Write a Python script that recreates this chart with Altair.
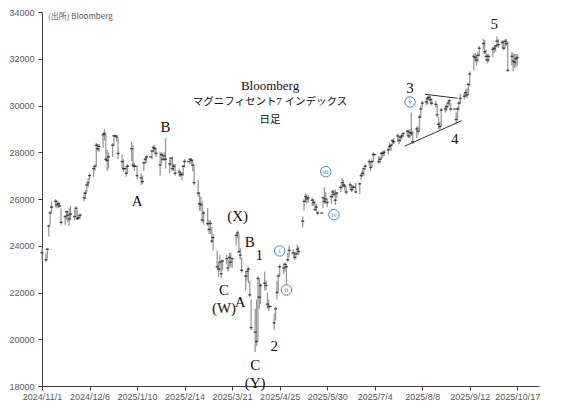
import altair as alt
import pandas as pd

# ---------------- daily data ----------------
nov_close = [23700, 23400, 23850, 24850, 25400, 25650, 25900, 25750, 25800, 25700, 25000, 25250, 25450, 25300, 25150, 25350, 25250, 25600, 25150, 25200, 25300]
nov_high = [23900, 23700, 23900, 24900, 25500, 25900, 26000, 25950, 25900, 25850, 25600, 25300, 25500, 25500, 25600, 25700, 25550, 25700, 25550, 25300, 25400]
nov_low = [23400, 23300, 23450, 24400, 24900, 25400, 25650, 25600, 25600, 25650, 24900, 24900, 25100, 25000, 24850, 25100, 25100, 25200, 25100, 25150, 25150]

dec_close = [26050, 26250, 26600, 26700, 27000, 27300, 27400, 28300, 28150, 28250, 28750, 28800, 27700, 27650, 27800, 28300, 28700, 28700, 28650, 27950, 27600, 27300]
dec_high = [26300, 26400, 26700, 26900, 27100, 27400, 27500, 28400, 28350, 28350, 28850, 29000, 28800, 28100, 28000, 28400, 28750, 28700, 28750, 28600, 27900, 27700]
dec_low = [25900, 26000, 26300, 26500, 26800, 26950, 27200, 27400, 28050, 28000, 28200, 28500, 27600, 27200, 27300, 27800, 28300, 28700, 28450, 27700, 27300, 27150]

jan_close = [27300, 27100, 27400, 28150, 27450, 27400, 27400, 27000, 26900, 26750, 27550, 27700, 27800, 27800, 28050, 28200, 28150, 27950, 27450, 27900, 27700, 27850, 27700]
jan_high = [27300, 27400, 27500, 28450, 28300, 27550, 27400, 27400, 27100, 27000, 27600, 27800, 27900, 27800, 28100, 28300, 28300, 28200, 28000, 28000, 27950, 28000, 28600]
jan_low = [27300, 26950, 27100, 27600, 27350, 27200, 27400, 26850, 26600, 26650, 27200, 27500, 27550, 27800, 27700, 28000, 27950, 27800, 27000, 27500, 27600, 27650, 27300]

feb_close = [27500, 27750, 27300, 27400, 27100, 27150, 27050, 27050, 27400, 27600, 27600, 27700, 27650, 27450, 26700, 26250, 25800, 25750, 25100, 25400]
feb_high = [27700, 27800, 27800, 27500, 27500, 27300, 27200, 27150, 27450, 27700, 27600, 27750, 27750, 27700, 27450, 26800, 26300, 26100, 25900, 25500]
feb_low = [27100, 27400, 27200, 27200, 27000, 26950, 26950, 26800, 27000, 27350, 27600, 27500, 27500, 27200, 26600, 26100, 25500, 25500, 25000, 24900]

mar_close = [24950, 24700, 24950, 24200, 24350, 23100, 23000, 23300, 22800, 23350, 23450, 23050, 23500, 23300, 23450, 24450, 24550, 23750, 23600, 22950, 22700]
mar_high = [25600, 25100, 25100, 24800, 24500, 23800, 23300, 23600, 23400, 23400, 23600, 23400, 23700, 23700, 23500, 24500, 24650, 24500, 23900, 23500, 22900]
mar_low = [24850, 24500, 24500, 24100, 23800, 23000, 22650, 22900, 22600, 22950, 23200, 22900, 23100, 23100, 23050, 24000, 24300, 23700, 23400, 22850, 22100]

apr_close = [22900, 23000, 21900, 20500, 20300, 19900, 22600, 21800, 22300, 22400, 22300, 21500, 21400, 21400, 20700, 21300, 22000, 22700, 23100, 23050, 23200, 23100]
apr_high = [23000, 23100, 22500, 21700, 21300, 21700, 22700, 22600, 22400, 22900, 22500, 22000, 21700, 21400, 21100, 21400, 22500, 22800, 23200, 23250, 23300, 23200]
apr_low = [22500, 22400, 21800, 20400, 19450, 19700, 19900, 21300, 21500, 22100, 22100, 21300, 21200, 21400, 20400, 20800, 21700, 22000, 22700, 22800, 22900, 22200]

may_close = [23400, 23800, 23700, 23500, 23650, 23850, 23750, 25050, 25900, 26100, 26000, 26050, 25950, 25850, 25550, 25650, 25400, 25400, 26050, 25900, 26000, 25850]
may_high = [23700, 24000, 23850, 23700, 23800, 24050, 23950, 25250, 26000, 26250, 26200, 26150, 26050, 26000, 25900, 25800, 25500, 25400, 26100, 26500, 26300, 26000]
may_low = [23300, 23500, 23550, 23400, 23450, 23600, 23600, 24800, 25500, 25850, 25800, 25850, 25700, 25700, 25500, 25450, 25300, 25400, 25600, 25800, 25800, 25650]

jun_close = [26100, 26300, 26200, 25950, 26250, 26500, 26700, 26600, 26550, 26300, 26600, 26400, 26500, 26500, 26300, 26650, 27000, 27100, 27300, 27400, 27600]
jun_high = [26200, 26400, 26400, 26400, 26300, 26600, 26900, 26800, 26650, 26500, 26700, 26600, 26600, 26500, 26700, 26700, 27100, 27250, 27350, 27500, 27700]
jun_low = [25800, 26050, 26100, 25750, 26050, 26300, 26450, 26500, 26350, 26200, 26400, 26300, 26350, 26500, 26250, 26200, 26800, 26950, 27000, 27250, 27400]

jul_close = [27350, 27600, 27900, 27900, 27600, 27700, 27950, 27950, 28000, 28100, 28250, 28300, 28500, 28450, 28700, 28500, 28650, 28700, 28800, 28900, 28700, 28850, 28800]
jul_high = [27600, 27700, 28000, 27900, 27850, 27800, 28000, 28050, 28100, 28200, 28400, 28350, 28550, 28600, 28800, 28700, 28700, 28800, 28850, 28950, 28950, 29000, 29700]
jul_low = [27200, 27350, 27600, 27900, 27500, 27550, 27700, 27750, 27850, 27900, 28100, 28050, 28300, 28350, 28450, 28350, 28450, 28550, 28650, 28700, 28600, 28600, 28700]

aug_close = [28450, 29000, 28900, 29500, 29850, 30100, 30150, 30300, 30350, 30250, 30100, 30050, 29600, 29200, 29100, 29800, 29850, 29950, 30100, 30200, 29850]
aug_high = [28900, 29100, 29100, 29600, 30000, 30200, 30350, 30400, 30450, 30400, 30300, 30200, 30050, 29500, 29300, 29900, 30000, 30050, 30200, 30300, 30100]
aug_low = [28350, 28600, 28750, 28900, 29500, 29900, 30000, 30050, 30200, 30050, 30000, 29900, 29500, 29000, 28950, 29100, 29700, 29750, 29900, 30000, 29750]

sep_close = [29850, 29400, 29850, 30100, 30300, 30400, 30550, 30450, 30900, 31350, 32100, 32050, 31950, 32150, 32450, 32650, 32300, 32100, 31950, 32100, 32400, 32450]
sep_high = [29850, 29700, 29950, 30200, 30500, 30550, 30700, 30750, 30950, 31450, 32200, 32250, 32150, 32300, 32550, 32850, 32800, 32400, 32200, 32200, 32500, 32550]
sep_low = [29850, 29200, 29400, 29800, 30050, 30250, 30350, 30300, 30450, 30850, 31500, 31850, 31700, 31850, 32100, 32400, 32200, 31900, 31800, 31850, 32050, 32250]

oct_close = [32550, 32750, 32600, 32700, 32450, 32750, 32650, 31500, 32100, 31900, 31850, 32000, 32050]
oct_high = [32600, 32950, 32850, 32800, 32750, 32850, 32850, 32750, 32300, 32250, 32200, 32200, 32200]
oct_low = [32300, 32500, 32450, 32450, 32350, 32450, 32550, 31450, 31700, 31450, 31600, 31650, 31700]

close = (nov_close + dec_close + jan_close + feb_close + mar_close + apr_close +
         may_close + jun_close + jul_close + aug_close + sep_close + oct_close)
high = (nov_high + dec_high + jan_high + feb_high + mar_high + apr_high +
        may_high + jun_high + jul_high + aug_high + sep_high + oct_high)
low = (nov_low + dec_low + jan_low + feb_low + mar_low + apr_low +
       may_low + jun_low + jul_low + aug_low + sep_low + oct_low)

dates = pd.bdate_range("2024-11-01", "2025-10-17")
df = pd.DataFrame({"date": dates, "close": close, "high": high, "low": low})

# ---------------- annotations ----------------
wave_dates = ["2025-01-31", "2025-01-10", "2025-03-25", "2025-04-03", "2025-04-10",
              "2025-03-15", "2025-03-15", "2025-03-27", "2025-04-07", "2025-04-07",
              "2025-04-21", "2025-07-30", "2025-09-01", "2025-09-30"]
wave_values = [29060, 25920, 25290, 24160, 23600, 22110, 21350, 21600, 18880, 18130,
               19720, 30730, 28560, 33500]
wave_texts = ["B", "A", "(X)", "B", "1", "C", "(W)", "A", "C", "(Y)", "2", "3", "4", "5"]

sub_dates = ["2025-04-25", "2025-04-30", "2025-05-29", "2025-06-04", "2025-07-30"]
sub_values = [23780, 22110, 27170, 25330, 30150]
sub_texts = ["i", "ii", "iii", "iv", "v"]

trend_start = ["2025-08-10", "2025-07-26"]
trend_end = ["2025-09-03", "2025-09-06"]
trend_v1 = [30480, 28260]
trend_v2 = [30310, 29350]

tick_dates = ["2024-11-01", "2024-12-06", "2025-01-10", "2025-02-14", "2025-03-21",
              "2025-04-25", "2025-05-30", "2025-07-04", "2025-08-08", "2025-09-12",
              "2025-10-17"]

title_lines = ["Bloomberg", "マグニフィセント7 インデックス", "日足"]
source_text = "(出所) Bloomberg"

# ---------------- chart ----------------
SANS = "Liberation Sans, Arial, sans-serif"
SERIF = "Liberation Serif, Noto Sans CJK JP, serif"


def dt(s):
    t = pd.Timestamp(s)
    return alt.DateTime(year=t.year, month=t.month, date=t.day)


x_scale = alt.Scale(domain=[dt("2024-11-01"), dt("2025-11-02")])
y_scale = alt.Scale(domain=[18000, 34000], nice=False, zero=False)

x_axis = alt.Axis(values=[dt(d) for d in tick_dates], format="%Y/%-m/%-d",
                  labelFont=SANS, labelFontSize=9, labelColor="#595959",
                  domainColor="#404040", tickColor="#404040", tickSize=4,
                  labelPadding=2, grid=False, title=None, labelOverlap=False,
                  labelFlush=False)
y_axis = alt.Axis(values=list(range(18000, 34001, 1000)), format="d",
                  labelFont=SANS, labelFontSize=9, labelColor="#595959",
                  domainColor="#404040", tickColor="#404040", tickSize=4,
                  labelPadding=4, grid=False, title=None)

base = alt.Chart(df)
hl = base.mark_rule(color="#9a9a9a", strokeWidth=1.3).encode(
    x=alt.X("date:T", scale=x_scale, axis=x_axis),
    y=alt.Y("low:Q", scale=y_scale, axis=y_axis),
    y2="high:Q",
)
cl = base.mark_tick(color="#111111", orient="horizontal", size=3, thickness=1.4).encode(
    x="date:T", y="close:Q"
)

trend_df = pd.DataFrame({"d1": pd.to_datetime(trend_start), "d2": pd.to_datetime(trend_end),
                         "v1": trend_v1, "v2": trend_v2})
trend = alt.Chart(trend_df).mark_rule(color="#333333", strokeWidth=1).encode(
    x="d1:T", x2="d2:T", y="v1:Q", y2="v2:Q")

wave_df = pd.DataFrame({"date": pd.to_datetime(wave_dates), "value": wave_values, "text": wave_texts})
waves = alt.Chart(wave_df).mark_text(font=SERIF, fontSize=15, color="#111111").encode(
    x="date:T", y="value:Q", text="text:N")

sub_df = pd.DataFrame({"date": pd.to_datetime(sub_dates), "value": sub_values, "text": sub_texts})
sub_c = alt.Chart(sub_df).mark_point(shape="circle", filled=True, fill="white",
                                     stroke="#4f86c0", strokeWidth=1, size=110, opacity=1).encode(
    x="date:T", y="value:Q")
sub_t = alt.Chart(sub_df).mark_text(font=SERIF, fontSize=7, color="#4f86c0").encode(
    x="date:T", y="value:Q", text="text:N")

title_df = pd.DataFrame({"text": title_lines, "row": [0, 1, 2]})
title1 = alt.Chart(title_df[title_df.row == 0]).mark_text(font=SERIF, fontSize=13, color="#111111").encode(
    x=alt.value(228), y=alt.value(74), text="text:N")
title2 = alt.Chart(title_df[title_df.row == 1]).mark_text(font=SERIF, fontSize=10.5, color="#111111").encode(
    x=alt.value(228), y=alt.value(90), text="text:N")
title3 = alt.Chart(title_df[title_df.row == 2]).mark_text(font=SERIF, fontSize=10.5, color="#111111").encode(
    x=alt.value(228), y=alt.value(108), text="text:N")

src_df = pd.DataFrame({"text": [source_text]})
src = alt.Chart(src_df).mark_text(font="Noto Sans CJK JP, Liberation Sans, sans-serif", fontSize=8,
                                  color="#595959", align="left").encode(
    x=alt.value(6), y=alt.value(5), text="text:N")

chart = alt.layer(hl, cl, trend, waves, sub_c, sub_t, title1, title2, title3, src).properties(
    width=497, height=374, background="white", padding=0
).configure_view(stroke=None)

chart.save("out.html", embed_options={"renderer": "svg", "actions": False})
